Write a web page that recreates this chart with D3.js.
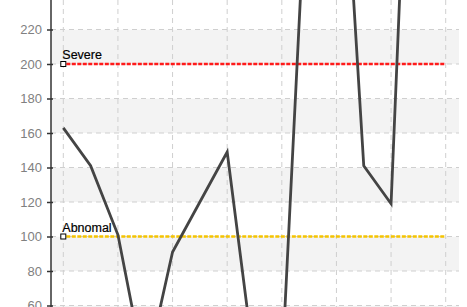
<!DOCTYPE html>
<html>
<head>
<meta charset="utf-8">
<script src="https://cdn.jsdelivr.net/npm/d3@7"></script>
<style>
  body { margin: 0; background: #fff; }
  svg { display: block; font-family: "Liberation Sans", Arial, sans-serif; }
</style>
</head>
<body>
<div id="chart"></div>
<script>
// Readings, one every half grid column.
var readings = [163, 141, 101, 20, 91, 120, 149, 25, 22, 340, 400, 141, 119, 500];
var yTicks = [60, 80, 100, 120, 140, 160, 180, 200, 220, 240];
var thresholdNames = ["Severe", "Abnomal"];
var thresholdValues = [200, 100];
var thresholdColors = ["#ff1a1a", "#f5c400"];

var width = 467, height = 307;
var plotLeft = 51, plotRight = 459;

var svg = d3.select("#chart").append("svg")
    .attr("width", width)
    .attr("height", height);

// Scales.
var x = d3.scaleLinear().domain([0, 14]).range([63.3, 445.7]);
var y = d3.scaleLinear().domain([0, 260]).range([409, -39.5]);

svg.append("defs").append("clipPath").attr("id", "clip")
    .append("rect").attr("x", plotLeft).attr("y", 0)
    .attr("width", plotRight - plotLeft).attr("height", height);

var plot = svg.append("g").attr("clip-path", "url(#clip)");

// Alternating bands.
plot.selectAll("rect.band")
    .data(d3.range(0, 260, 20))
    .enter().append("rect")
    .attr("class", "band")
    .attr("x", plotLeft)
    .attr("width", plotRight - plotLeft)
    .attr("y", function(d) { return y(d + 20); })
    .attr("height", function(d) { return y(d) - y(d + 20); })
    .style("fill", function(d) { return (d / 20) % 2 === 0 ? "#f3f3f3" : "#ffffff"; });

// Grid lines.
plot.selectAll("line.hgrid")
    .data(yTicks)
    .enter().append("line")
    .attr("x1", plotLeft).attr("x2", plotRight)
    .attr("y1", function(d) { return y(d); })
    .attr("y2", function(d) { return y(d); })
    .style("stroke", "#cfcfcf")
    .style("stroke-dasharray", "5,4");

plot.selectAll("line.vgrid")
    .data(d3.range(0, 15, 2))
    .enter().append("line")
    .attr("x1", function(d) { return x(d); })
    .attr("x2", function(d) { return x(d); })
    .attr("y1", 0).attr("y2", height)
    .style("stroke", "#cfcfcf")
    .style("stroke-dasharray", "5,4");

// Threshold lines with labels.
thresholdValues.forEach(function(v, i) {
    plot.append("line")
        .attr("x1", x(0) + 3).attr("x2", x(14))
        .attr("y1", y(v)).attr("y2", y(v))
        .style("stroke", thresholdColors[i])
        .style("stroke-width", 2.5)
        .style("stroke-dasharray", "4,1.5");
    plot.append("rect")
        .attr("x", x(0) - 2.5).attr("y", y(v) - 2.5)
        .attr("width", 5).attr("height", 5)
        .style("fill", "#fff")
        .style("stroke", "#000")
        .style("stroke-width", 1);
    plot.append("text")
        .attr("x", x(0) - 1).attr("y", y(v) - 5)
        .style("font-size", "12.5px")
        .style("fill", "#000")
        .style("stroke", "#000")
        .style("stroke-width", 0.2)
        .text(thresholdNames[i]);
});

// Data line.
var line = d3.line()
    .x(function(d, i) { return x(i); })
    .y(function(d) { return y(d); });

plot.append("path")
    .datum(readings)
    .attr("d", line)
    .style("fill", "none")
    .style("stroke", "#444")
    .style("stroke-width", 2.8)
    .style("stroke-linejoin", "miter");

// Y axis.
var axis = svg.append("g")
    .attr("transform", "translate(" + plotLeft + ",0)")
    .call(d3.axisLeft(y).tickValues(yTicks).tickSize(4).tickPadding(5));
axis.select(".domain").remove();
axis.append("line")
    .attr("x1", 0).attr("x2", 0).attr("y1", 0).attr("y2", height)
    .style("stroke", "#333").style("stroke-width", 1.5);
axis.selectAll(".tick line")
    .attr("x1", 2)
    .style("stroke", "#333")
    .style("stroke-width", 1.5);
axis.selectAll(".tick text")
    .style("font-family", "'Liberation Sans', Arial, sans-serif")
    .style("font-size", "13px")
    .style("fill", "#808080");
</script>
</body>
</html>
